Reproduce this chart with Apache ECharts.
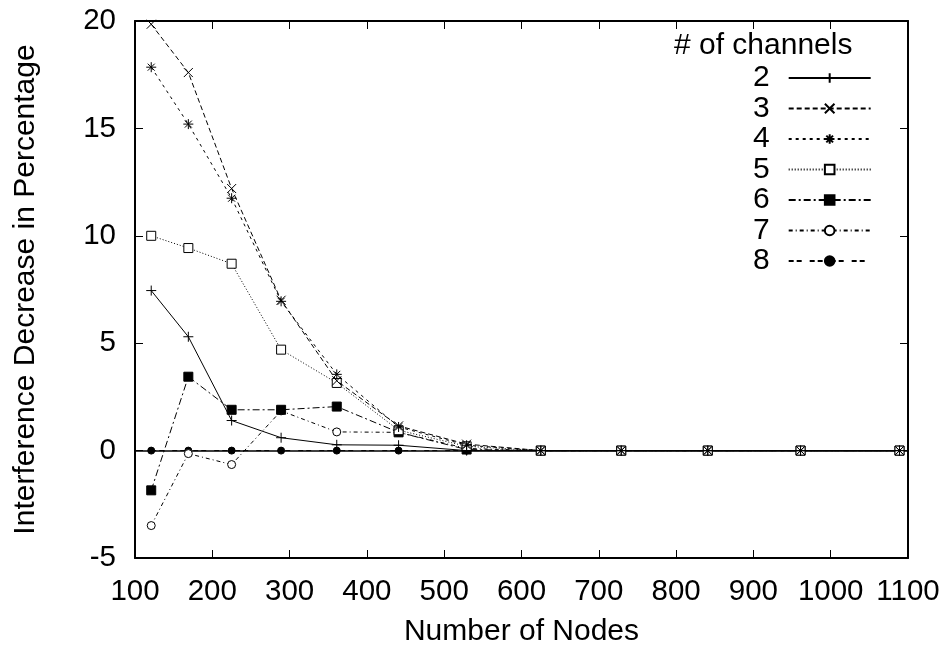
<!DOCTYPE html>
<html>
<head>
<meta charset="utf-8">
<script src="https://cdn.jsdelivr.net/npm/echarts@6/dist/echarts.min.js"></script>
<style>html,body{margin:0;padding:0;background:#fff;}#c{width:950px;height:649px;}</style>
</head>
<body>
<div id="c"></div>
<script>
const xNodes = [121, 169, 225, 289, 361, 441, 529, 625, 729, 841, 961, 1089];
const ch2 = [7.45, 5.3, 1.4, 0.6, 0.27, 0.25, 0, 0, 0, 0, 0, 0];
const ch3 = [19.85, 17.6, 12.2, 7.0, 3.25, 1.15, 0.3, 0, 0, 0, 0, 0];
const ch4 = [17.85, 15.2, 11.75, 6.95, 3.55, 1.1, 0.25, 0, 0, 0, 0, 0];
const ch5 = [10.0, 9.43, 8.7, 4.7, 3.15, 0.95, 0.2, 0, 0, 0, 0, 0];
const ch6 = [-1.85, 3.44, 1.9, 1.9, 2.05, 0.85, 0.05, 0, 0, 0, 0, 0];
const ch7 = [-3.49, -0.14, -0.65, 1.85, 0.87, 0.85, 0.1, 0, 0, 0, 0, 0];
const ch8 = [0, 0, 0, 0, 0, 0, 0, 0, 0, 0, 0, 0];
const seriesNames = ['2', '3', '4', '5', '6', '7', '8'];
const seriesValues = [ch2, ch3, ch4, ch5, ch6, ch7, ch8];
const xTicks = {min: 100, max: 1100, step: 100};
const yTicks = {min: -5, max: 20, step: 5};
const legendTitle = '# of channels';
const xTitle = 'Number of Nodes';
const yTitle = 'Interference Decrease in Percentage';

const FONT = "'Liberation Sans', Arial, Helvetica, sans-serif";
const FS = 30;
const TFS = 29.5;

const styles = [
  {symbol: 'path://M5,0L5,10M0,5L10,5', size: 10, dash: 'solid', fill: '#000'},
  {symbol: 'path://M0,0L10,10M10,0L0,10', size: 9, dash: [5, 3], fill: '#000'},
  {symbol: 'path://M5,0L5,10M0,5L10,5M1.5,1.5L8.5,8.5M8.5,1.5L1.5,8.5', size: 10, dash: [3, 4], fill: '#000'},
  {symbol: 'rect', size: 9, dash: [1, 2], fill: '#fff'},
  {symbol: 'rect', size: 9, dash: [7, 3, 2, 3], fill: '#000'},
  {symbol: 'circle', size: 8, dash: [4, 3, 1, 3], fill: '#fff'},
  {symbol: 'circle', size: 7, dash: [5, 3, 5, 8], fill: '#000'}
];

const series = seriesNames.map((name, i) => {
  const st = styles[i];
  const s = {
    name: name,
    type: 'line',
    data: xNodes.map((x, j) => [x, seriesValues[i][j]]),
    symbol: st.symbol,
    symbolSize: st.size,
    showAllSymbol: true,
    z: 10 - i,
    lineStyle: {color: '#000', width: 1, type: st.dash},
    itemStyle: {color: st.fill, borderColor: '#000', borderWidth: 1},
    animation: false
  };
  if (i === seriesNames.length - 1) {
    s.markLine = {
      silent: true, symbol: 'none', label: {show: false}, animation: false,
      lineStyle: {color: '#000', type: 'solid', width: 1.5},
      data: [{yAxis: 0}]
    };
  }
  return s;
});

const axisCommon = {
  type: 'value',
  splitLine: {show: false},
  axisLine: {show: true, onZero: false, lineStyle: {color: '#000', width: 2}},
  axisTick: {show: true, inside: true, length: 8, lineStyle: {color: '#000', width: 1}}
};

const chart = echarts.init(document.getElementById('c'), null, {renderer: 'canvas'});
chart.setOption({
  animation: false,
  backgroundColor: '#fff',
  textStyle: {fontFamily: FONT},
  grid: {left: 135, right: 42, top: 21, bottom: 91, containLabel: false, outerBoundsMode: 'none'},
  xAxis: [
    Object.assign({}, axisCommon, {
      position: 'bottom', min: xTicks.min, max: xTicks.max, interval: xTicks.step,
      name: xTitle, nameLocation: 'middle', nameGap: 59,
      nameTextStyle: {fontSize: FS, color: '#000', fontFamily: FONT},
      axisLabel: {fontSize: TFS, color: '#000', margin: 19, fontFamily: FONT, formatter: v => String(v)}
    }),
    Object.assign({}, axisCommon, {
      position: 'top', min: xTicks.min, max: xTicks.max, interval: xTicks.step,
      axisLabel: {show: false}
    })
  ],
  yAxis: [
    Object.assign({}, axisCommon, {
      position: 'left', min: yTicks.min, max: yTicks.max, interval: yTicks.step,
      name: yTitle, nameLocation: 'middle', nameGap: 94,
      nameTextStyle: {fontSize: FS, color: '#000', fontFamily: FONT},
      axisLabel: {fontSize: TFS, color: '#000', margin: 19, fontFamily: FONT, formatter: v => String(v)}
    }),
    Object.assign({}, axisCommon, {
      position: 'right', min: yTicks.min, max: yTicks.max, interval: yTicks.step,
      axisLabel: {show: false}
    })
  ],
  legend: {
    data: seriesNames,
    orient: 'vertical',
    left: 753,
    top: 63,
    padding: 0,
    align: 'right',
    itemWidth: 82,
    itemHeight: 12,
    itemGap: 0.5,
    selectedMode: false,
    textStyle: {fontSize: FS, color: '#000', fontFamily: FONT, padding: [0, 14, 0, 0]}
  },
  graphic: [{
    type: 'text',
    x: 674, y: 46,
    style: {text: legendTitle, fontSize: FS, fontFamily: FONT, fill: '#000', verticalAlign: 'middle', align: 'left'}
  }],
  series: series
});
</script>
</body>
</html>
